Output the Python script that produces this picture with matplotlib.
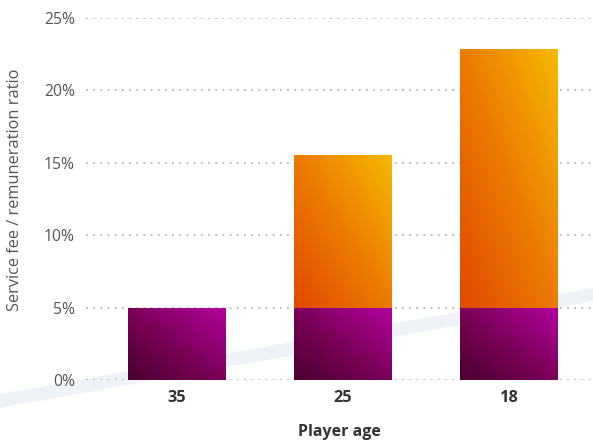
import matplotlib
matplotlib.use("Agg")
import matplotlib.pyplot as plt
import numpy as np
from matplotlib.colors import LinearSegmentedColormap
from matplotlib.patches import Polygon

plt.rcParams['font.family'] = ['Open Sans', 'DejaVu Sans']

categories = ["35", "25", "18"]
base_values = [5.0, 5.0, 5.0]
extra_values = [0.0, 10.55, 17.85]
yticks = [0, 5, 10, 15, 20, 25]
ytick_labels = ["0%", "5%", "10%", "15%", "20%", "25%"]

W, H = 593, 444
fig = plt.figure(figsize=(W / 100, H / 100), dpi=100)

# background diagonal band on a full-figure background axes
bg = fig.add_axes([0, 0, 1, 1], zorder=0)
bg.set_xlim(0, 1)
bg.set_ylim(0, 1)
bg.axis("off")
bg.add_patch(Polygon([(0, 1 - 394 / H), (1, 1 - 288 / H), (1, 1 - 301 / H), (0, 1 - 408 / H)],
                     closed=True, facecolor="#eff3f7", edgecolor="none"))

ax = fig.add_axes([86 / W, 1 - 380 / H, 1 - 86 / W, (380 - 18) / H], zorder=1)
ax.patch.set_alpha(0)

purple = LinearSegmentedColormap.from_list("p", ["#4a0030", "#7d005a", "#b2009e"])
orange = LinearSegmentedColormap.from_list("o", ["#e24a00", "#ec7a00", "#f6b800"])

n = 64
gx, gy = np.meshgrid(np.linspace(0, 1, n), np.linspace(0, 1, n))
grad = (gx + gy) / 2

width = 0.59
x = np.arange(len(categories))

def grad_bar(xc, y0, h, cmap):
    if h <= 0:
        return
    bars = ax.bar(xc, h, width, bottom=y0, color="none", edgecolor="none", zorder=3)
    patch = bars[0]
    im = ax.imshow(grad, cmap=cmap, origin="lower", aspect="auto",
                   extent=[xc - width / 2, xc + width / 2, y0, y0 + h],
                   interpolation="bilinear", zorder=3)
    im.set_clip_path(patch)

for i in range(len(categories)):
    grad_bar(x[i], 0, base_values[i], purple)
    grad_bar(x[i], base_values[i], extra_values[i], orange)

ax.set_xlim(-0.548, 2.506)
ax.set_ylim(0, 25)

for yv in yticks:
    ax.axhline(yv, color="#aaaaaa", linestyle=(0, (1.2, 3.5)), linewidth=1.1, zorder=1)

for s in ax.spines.values():
    s.set_visible(False)

ax.set_yticks(yticks)
ax.set_yticklabels(ytick_labels, fontsize=11.3, color="#555555")
ax.set_xticks(x)
ax.set_xticklabels(categories, fontsize=11.8, color="#333333", fontweight="bold")
ax.tick_params(axis="both", length=0)
ax.tick_params(axis="y", pad=8)
ax.tick_params(axis="x", pad=7)

ax.set_xlabel("Player age", fontsize=11.5, color="#333333", fontweight="bold", labelpad=13)
fig.text(15 / W, 1 - 190 / H, "Service fee / remuneration ratio", rotation=90,
         fontsize=11.8, color="#555555", ha="center", va="center")

fig.savefig("out.png", dpi=100)
